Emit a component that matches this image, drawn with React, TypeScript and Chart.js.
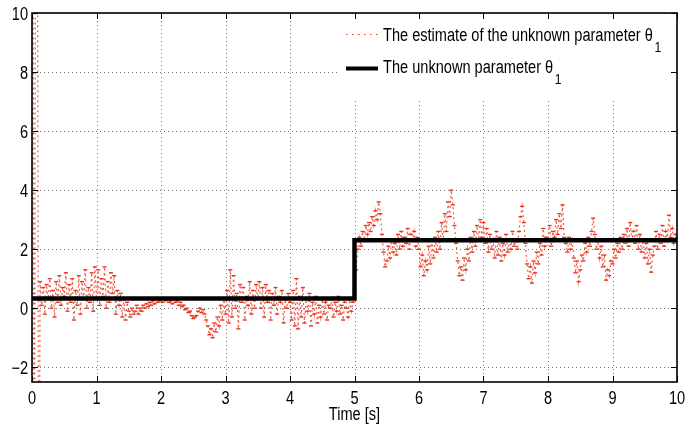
import React, { useEffect, useRef } from 'react';
import { Chart, registerables } from 'chart.js';

Chart.register(...registerables);

// ---- data ----
const X_TICKS = [0, 1, 2, 3, 4, 5, 6, 7, 8, 9, 10];
const Y_TICKS = [-2, 0, 2, 4, 6, 8, 10];
const SAMPLE_STEP = 0.025; // seconds between estimate samples

// start-up transient of the estimator (leaves the plotted range)
const TRANSIENT_TIME = [0, 0.035, 0.07, 0.105];
const TRANSIENT_VALUE = [40, -15, 40, -15];

const ESTIMATE = [
  0.9, 0.1, 0.7, -0.2, 0.8, 0.3, 1.0, 0.0, 0.6, -0.3, 0.9, 0.2, 1.1, 0.1, 0.7,
  0.4, 1.2, -0.1, 0.8, 0.2, 1.0, -0.4, 0.6, 0.1, 1.1, -0.2, 0.9, 0.3, 1.3, 0.0, 0.7, 0.2, 1.2, -0.1, 1.4,
  0.3, 1.3, 0.1, 1.0, 0.4, 1.4, 0.0, 0.9, 0.2, 1.2, 0.5, 1.1, -0.2, 0.6, 0.1, 0.5, -0.3, 0.3, -0.4, 0.2,
  -0.1, -0.3, 0.0, -0.2, -0.1, 0.1, -0.2, 0.0, -0.1, 0.1, 0.0, 0.15, 0.05, 0.2, 0.1, 0.25, 0.15, 0.3, 0.2, 0.25,
  0.3, 0.2, 0.35, 0.25, 0.3, 0.2, 0.25, 0.15, 0.3, 0.2, 0.25, 0.1, 0.2, 0.05, 0.1, -0.05, 0.0, -0.15, -0.1, -0.25,
  -0.35, -0.3, -0.25, -0.1, 0.0, -0.15, -0.05, -0.2, -0.4, -0.6, -0.9, -0.7, -1.0, -0.5, -0.8, -0.3, -0.6, 0.1, -0.4, 0.3,
  -0.2, 0.6, -0.5, 1.3, -0.3, 1.1, 0.0, 0.5, -0.7, 0.8, 0.2, 0.7, -0.4, 0.4, 0.1, 0.9, -0.2, 0.6, 0.0, 0.8,
  0.3, 0.9, 0.0, 0.7, -0.3, 0.8, 0.2, 0.6, -0.4, 0.5, 0.1, 0.7, -0.2, 0.4, 0.2, 0.6, -0.5, 0.3, 0.0, 0.5,
  0.2, -0.4, 0.6, -0.6, 1.0, -0.7, 0.4, -0.3, 0.7, -0.5, 0.3, -0.1, 0.5, -0.6, 0.2, -0.2, 0.4, -0.5, 0.1, -0.3,
  0.3, -0.2, 0.2, -0.4, 0.1, 0.0, 0.3, -0.3, 0.2, -0.1, 0.4, -0.2, 0.1, -0.4, 0.2, 0.0, -0.3, 0.3, -0.1, 0.2,
  0.5, 1.3, 2.0, 2.4, 2.1, 2.6, 2.3, 2.8, 2.5, 2.9, 2.6, 3.1, 2.8, 3.3, 3.0, 3.6, 3.2, 2.5, 1.9, 1.4,
  1.6, 2.1, 1.7, 2.3, 1.9, 2.2, 1.8, 2.5, 2.0, 2.6, 2.1, 2.4, 2.2, 2.7, 2.0, 2.5, 2.3, 2.6, 2.1, 2.4,
  2.0, 1.4, 1.8, 1.1, 1.6, 1.3, 2.1, 1.5, 2.3, 1.7, 2.4, 1.9, 2.6, 2.0, 2.9, 2.3, 3.2, 2.6, 3.6, 3.1,
  4.0, 3.5, 2.8, 2.2, 1.6, 1.1, 1.4, 0.95, 1.7, 1.3, 2.0, 1.6, 2.4, 1.9, 2.6, 2.1, 2.8, 2.3, 3.0, 2.4,
  2.9, 2.2, 2.7, 1.9, 2.5, 2.0, 2.3, 1.7, 2.6, 1.8, 2.4, 1.6, 2.2, 1.8, 2.5, 1.9, 2.3, 2.0, 2.6, 2.1,
  2.3, 2.0, 2.6, 3.1, 3.45, 2.9, 2.2, 1.5, 1.0, 1.4, 0.85, 1.6, 1.2, 1.9, 1.5, 2.2, 1.8, 2.7, 2.1, 2.4,
  2.3, 2.8, 2.1, 2.6, 2.4, 3.0, 2.5, 3.2, 2.7, 3.5, 2.4, 2.2, 1.9, 2.4, 2.0, 2.3, 1.7, 1.2, 1.6, 0.9,
  1.3, 1.8, 1.6, 2.2, 1.9, 2.4, 2.1, 2.6, 3.05, 2.5, 2.0, 2.3, 1.7, 2.1, 1.4, 1.8, 0.95, 1.3, 1.1, 1.6,
  1.5, 2.0, 1.7, 2.2, 1.9, 2.4, 2.0, 2.5, 2.2, 2.7, 2.1, 2.9, 2.3, 2.6, 2.2, 2.8, 2.0, 2.5, 1.9, 2.3,
  1.7, 2.2, 1.5, 2.0, 1.22, 1.8, 2.1, 2.6, 2.0, 2.5, 2.2, 2.8, 2.1, 2.6, 2.3, 3.15, 2.4, 2.7, 2.2, 2.5,
  2.4,
];
const ESTIMATE_START = 0.125; // time of first regular estimate sample

const TRUE_TIME = [0, 5, 5, 10];
const TRUE_VALUE = [0.33, 0.33, 2.3, 2.3];

const LEGEND_LABELS = ['The estimate of the unknown parameter θ', 'The unknown parameter θ'];
const LEGEND_SUB = '1';
const X_TITLE = 'Time [s]';

// ---- styles ----
const RED = '#e8321a';
const FONT = '"Liberation Sans", Arial, Helvetica, sans-serif';
const SX = 0.81; // horizontal condensing (Helvetica Narrow look)

const fmt = (v: number) => (v < 0 ? '\u2212' + Math.abs(v) : String(v));

function narrowText(
  ctx: CanvasRenderingContext2D,
  text: string,
  x: number,
  y: number,
  size: number,
  align: CanvasTextAlign
) {
  ctx.save();
  ctx.font = `${size}px ${FONT}`;
  ctx.textAlign = align;
  ctx.textBaseline = 'alphabetic';
  ctx.fillStyle = '#000';
  ctx.translate(x, y);
  ctx.scale(SX, 1);
  ctx.fillText(text, 0, 0);
  const w = ctx.measureText(text).width * SX;
  ctx.restore();
  return w;
}

const framePlugin = {
  id: 'matlabFrame',
  beforeDatasetsDraw(chart: any) {
    const { ctx, chartArea: a, scales } = chart;
    ctx.save();
    ctx.strokeStyle = 'rgba(0,0,0,0.55)';
    ctx.lineWidth = 1;
    ctx.setLineDash([1, 3]);
    X_TICKS.forEach((v) => {
      const x = Math.round(scales.x.getPixelForValue(v)) + 0.5;
      ctx.beginPath();
      ctx.moveTo(x, a.top);
      ctx.lineTo(x, a.bottom);
      ctx.stroke();
    });
    Y_TICKS.forEach((v) => {
      const y = Math.round(scales.y.getPixelForValue(v)) + 0.5;
      ctx.beginPath();
      ctx.moveTo(a.left, y);
      ctx.lineTo(a.right, y);
      ctx.stroke();
    });
    ctx.restore();
  },
  afterDatasetsDraw(chart: any) {
    const { ctx, chartArea: a, scales } = chart;
    ctx.save();
    // legend box (white, no border)
    const lx = 340;
    ctx.fillStyle = '#fff';
    ctx.fillRect(lx, a.top + 1, a.right - lx - 1, 84);
    // frame
    ctx.setLineDash([]);
    ctx.strokeStyle = '#000';
    ctx.lineWidth = 1.6;
    ctx.strokeRect(a.left, a.top, a.right - a.left, a.bottom - a.top);
    // inward ticks
    ctx.lineWidth = 1;
    const TL = 6;
    X_TICKS.forEach((v) => {
      const x = Math.round(scales.x.getPixelForValue(v)) + 0.5;
      ctx.beginPath();
      ctx.moveTo(x, a.bottom);
      ctx.lineTo(x, a.bottom - TL);
      ctx.moveTo(x, a.top);
      ctx.lineTo(x, a.top + TL);
      ctx.stroke();
    });
    Y_TICKS.forEach((v) => {
      const y = Math.round(scales.y.getPixelForValue(v)) + 0.5;
      ctx.beginPath();
      ctx.moveTo(a.left, y);
      ctx.lineTo(a.left + TL, y);
      ctx.moveTo(a.right, y);
      ctx.lineTo(a.right - TL, y);
      ctx.stroke();
    });
    // tick labels
    X_TICKS.forEach((v) => {
      narrowText(ctx, fmt(v), scales.x.getPixelForValue(v), a.bottom + 22, 18, 'center');
    });
    Y_TICKS.forEach((v) => {
      narrowText(ctx, fmt(v), a.left - 4, scales.y.getPixelForValue(v) + 6.8, 18, 'right');
    });
    // axis title
    narrowText(ctx, X_TITLE, (a.left + a.right) / 2, a.bottom + 38, 18, 'center');

    // legend entries
    const sx0 = 346;
    const sx1 = 378;
    const tx = 383;
    ctx.strokeStyle = RED;
    ctx.lineWidth = 1;
    ctx.setLineDash([1.5, 4.5]);
    ctx.beginPath();
    ctx.moveTo(sx0, 34.5);
    ctx.lineTo(sx1, 34.5);
    ctx.stroke();
    ctx.setLineDash([]);
    ctx.strokeStyle = '#000';
    ctx.lineWidth = 4;
    ctx.beginPath();
    ctx.moveTo(sx0, 68.5);
    ctx.lineTo(sx1, 68.5);
    ctx.stroke();
    const baselines = [41, 73];
    LEGEND_LABELS.forEach((txt, i) => {
      const w = narrowText(ctx, txt, tx, baselines[i], 18, 'left');
      narrowText(ctx, LEGEND_SUB, tx + w + 1.5, baselines[i] + 10.5, 15, 'left');
    });
    ctx.restore();
  },
};

export default function App() {
  const ref = useRef<HTMLCanvasElement>(null);
  useEffect(() => {
    document.body.style.margin = '0';
    const canvas = ref.current!;
    const estimatePoints = [
      ...TRANSIENT_TIME.map((t, i) => ({ x: t, y: TRANSIENT_VALUE[i] })),
      ...ESTIMATE.map((v, i) => ({ x: ESTIMATE_START + i * SAMPLE_STEP, y: v })),
    ];
    const chart = new Chart(canvas, {
      type: 'line',
      data: {
        datasets: [
          {
            label: 'estimate',
            data: estimatePoints,
            borderColor: 'rgba(232,50,26,0.8)',
            borderWidth: 1.2,
            borderDash: [2, 3],
            pointStyle: 'line',
            pointRadius: 2,
            pointBorderColor: RED,
            pointBorderWidth: 1.4,
            tension: 0,
            order: 1,
          } as any,
          {
            label: 'true',
            data: TRUE_TIME.map((t, i) => ({ x: t, y: TRUE_VALUE[i] })),
            borderColor: '#000',
            borderWidth: 4.5,
            pointRadius: 0,
            tension: 0,
            order: 0,
          } as any,
        ],
      },
      options: {
        animation: false,
        responsive: false,
        devicePixelRatio: 1,
        layout: { padding: { left: 32, right: 8, top: 13, bottom: 48 } },
        plugins: { legend: { display: false }, tooltip: { enabled: false } },
        scales: {
          x: {
            type: 'linear',
            min: 0,
            max: 10,
            display: false,
            afterBuildTicks: (s: any) => {
              s.ticks = X_TICKS.map((v) => ({ value: v }));
            },
          },
          y: {
            type: 'linear',
            min: -2.5,
            max: 10,
            display: false,
            afterBuildTicks: (s: any) => {
              s.ticks = Y_TICKS.map((v) => ({ value: v }));
            },
          },
        },
      } as any,
      plugins: [framePlugin],
    });
    return () => chart.destroy();
  }, []);
  return (
    <div style={{ width: 685, height: 430 }}>
      <canvas ref={ref} width={685} height={430} style={{ display: 'block' }} />
    </div>
  );
}
